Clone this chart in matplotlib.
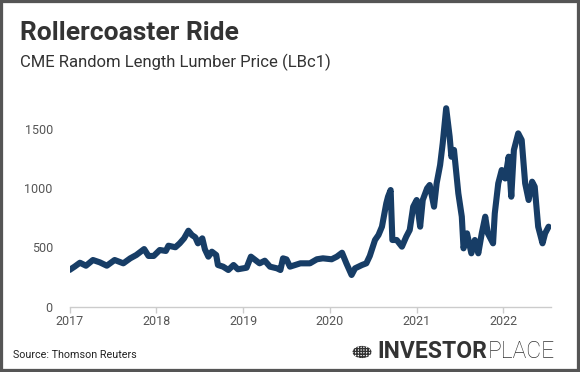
import matplotlib.pyplot as plt
from matplotlib.patches import Rectangle, Circle

plt.rcParams['font.family'] = ['Roboto', 'DejaVu Sans']

# decimal years and lumber price (USD per 1000 board feet)
years = [2017.00, 2017.06, 2017.12, 2017.19, 2017.27, 2017.35, 2017.43, 2017.52,
         2017.62, 2017.70, 2017.77, 2017.86, 2017.91, 2017.97, 2018.04, 2018.11,
         2018.14, 2018.22, 2018.27, 2018.32, 2018.37, 2018.41, 2018.45, 2018.48,
         2018.53, 2018.56, 2018.60, 2018.64, 2018.69, 2018.71, 2018.77, 2018.83,
         2018.89, 2018.94, 2019.04, 2019.09, 2019.14, 2019.19, 2019.25, 2019.31,
         2019.39, 2019.43, 2019.46, 2019.50, 2019.54, 2019.66, 2019.77, 2019.85,
         2019.92, 2020.02, 2020.08, 2020.14, 2020.19, 2020.25, 2020.29, 2020.37,
         2020.42, 2020.46, 2020.52, 2020.56, 2020.60, 2020.65, 2020.67, 2020.70,
         2020.72, 2020.77, 2020.83, 2020.88, 2020.92, 2020.96, 2021.00, 2021.04,
         2021.07, 2021.12, 2021.15, 2021.20, 2021.23, 2021.27, 2021.30, 2021.34,
         2021.38, 2021.40, 2021.43, 2021.48, 2021.52, 2021.54, 2021.58, 2021.63,
         2021.67, 2021.71, 2021.75, 2021.79, 2021.82, 2021.88, 2021.90, 2021.94,
         2021.98, 2022.02, 2022.06, 2022.09, 2022.12, 2022.17, 2022.21, 2022.25,
         2022.29, 2022.33, 2022.36, 2022.40, 2022.45, 2022.48, 2022.52]
price = [311, 340, 372, 347, 395, 375, 347, 395,
         367, 409, 437, 487, 429, 429, 479, 471,
         515, 502, 535, 577, 641, 605, 585, 535,
         577, 485, 423, 465, 437, 353, 339, 311,
         353, 317, 330, 423, 395, 367, 389, 339,
         325, 311, 409, 400, 339, 367, 367, 401,
         409, 401, 423, 456, 367, 269, 325, 353,
         367, 429, 563, 605, 675, 871, 927, 983,
         563, 563, 507, 591, 647, 843, 899, 675,
         899, 997, 1025, 843, 1039, 1193, 1375, 1670,
         1431, 1263, 1320, 955, 759, 493, 619, 451,
         563, 451, 619, 759, 619, 535, 787, 1039,
         1151, 1080, 1263, 927, 1319, 1459, 1403, 1039,
         899, 1053, 1011, 675, 535, 619, 675]

xticks = [2017, 2018, 2019, 2020, 2021, 2022]
yticks = [0, 500, 1000, 1500]

W, H = 580, 372
fig = plt.figure(figsize=(W / 100, H / 100), dpi=100)
fig.patch.set_facecolor('white')

ax = fig.add_axes([69.5 / W, (H - 307) / H, (551.2 - 69.5) / W, 208.25 / H])
ax.plot(years, price, color='#173d66', lw=4.4, solid_joinstyle='round',
        solid_capstyle='round')
ax.set_xlim(2017, 2022.55)
ax.set_ylim(0, 1750)
ax.set_xticks(xticks)
ax.set_xticklabels([str(t) for t in xticks])
ax.set_yticks(yticks)
for s in ['top', 'right', 'left']:
    ax.spines[s].set_visible(False)
ax.spines['bottom'].set_color('#cccccc')
ax.spines['bottom'].set_linewidth(1)
ax.tick_params(axis='x', colors='#cccccc', length=4, width=1, labelcolor='#555555',
               labelsize=9, pad=2)
ax.tick_params(axis='y', length=0, labelcolor='#555555', labelsize=9, pad=12)

fig.text(20 / W, 1 - 33 / H, 'Rollercoaster Ride', fontsize=19, fontweight='bold',
         color='#333333', va='center', ha='left')
fig.text(20 / W, 1 - 62 / H, 'CME Random Length Lumber Price (LBc1)', fontsize=12,
         color='#333333', va='center', ha='left')
fig.text(13 / W, 1 - 355 / H, 'Source: Thomson Reuters', fontsize=7.75,
         color='#222222', va='center', ha='left')

# logo
t1 = fig.text(377 / W, 1 - 352 / H, 'INVESTOR', fontsize=16.5, fontweight='bold',
              color='#333333', va='center', ha='left')
fig.canvas.draw()
bb = t1.get_window_extent()
fig.text(bb.x1 / W + 1 / W, 1 - 352 / H, 'PLACE', fontsize=16.5, fontweight='light',
         color='#333333', va='center', ha='left')
globe = Circle((362 / W, 1 - 352 / H), 9.5 / W, transform=fig.transFigure,
               facecolor='white', edgecolor='#333333', hatch='++++++', lw=0)
fig.patches.append(globe)

border = Rectangle((0, 0), 1, 1, transform=fig.transFigure, fill=False,
                   edgecolor='#555555', lw=4.5)
fig.patches.append(border)

fig.savefig('out.png', dpi=100)
